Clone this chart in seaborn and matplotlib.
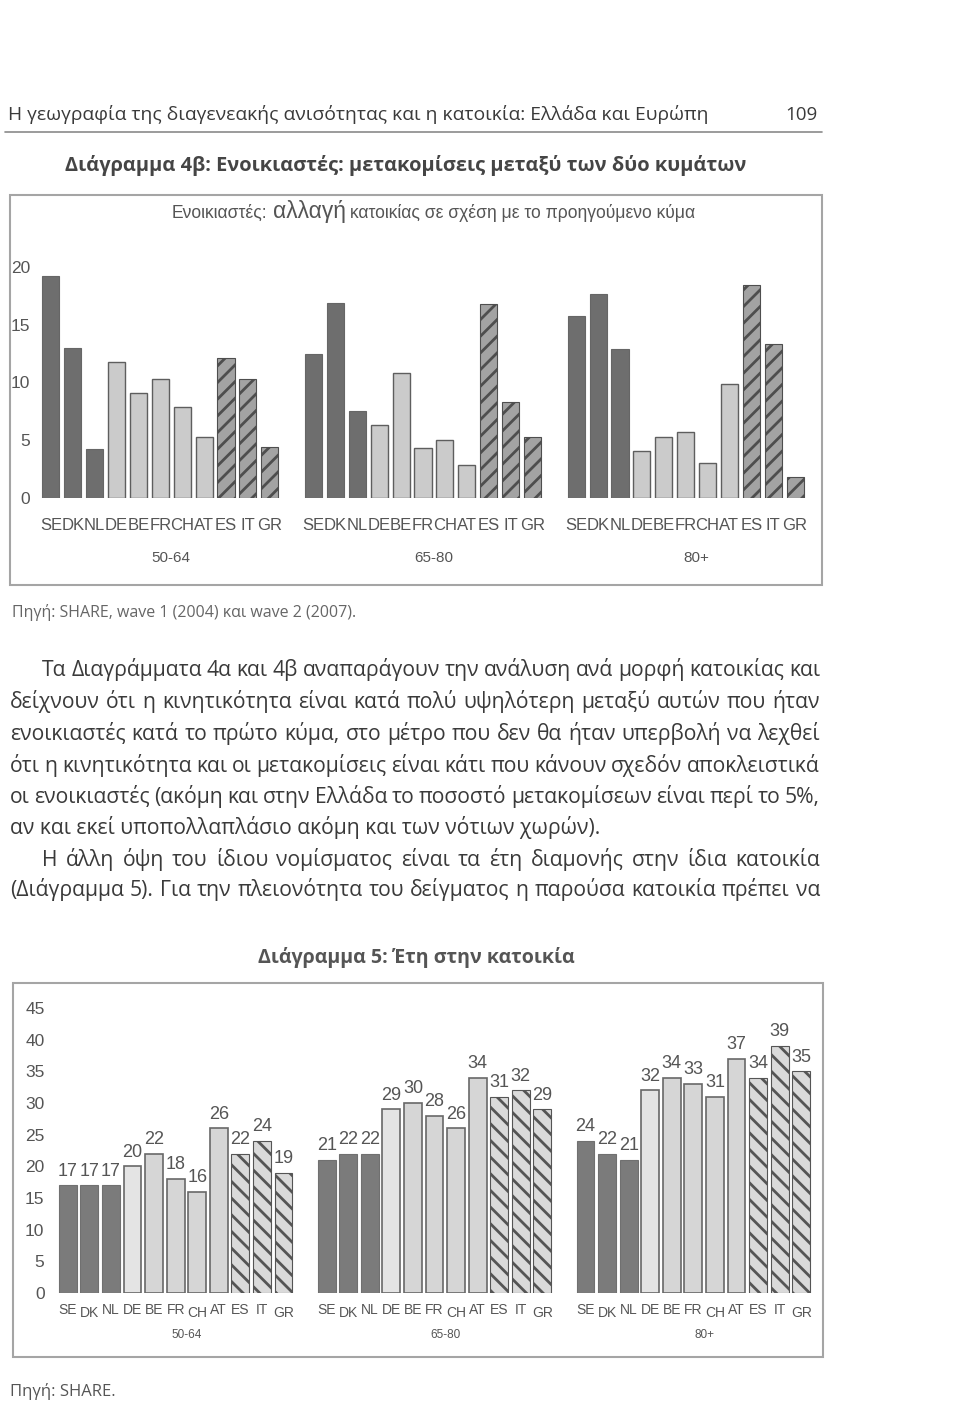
import numpy as np
import pandas as pd
import matplotlib
matplotlib.use("Agg")
import matplotlib.pyplot as plt
import seaborn as sns
from matplotlib.patches import Rectangle
from matplotlib.lines import Line2D
from matplotlib.transforms import blended_transform_factory

# ---------------- data ----------------
countries = ["SE", "DK", "NL", "DE", "BE", "FR", "CH", "AT", "ES", "IT", "GR"]
country_type = ["north", "north", "north", "central", "central", "central",
                "central", "central", "south", "south", "south"]
age_groups = ["50-64", "65-80", "80+"]

# Chart 4b: renters, % moved between waves
moves_5064 = [19.2, 13.0, 4.2, 11.8, 9.1, 10.3, 7.9, 5.3, 12.1, 10.3, 4.4]
moves_6580 = [12.5, 16.9, 7.5, 6.3, 10.8, 4.3, 5.0, 2.9, 16.8, 8.3, 5.3]
moves_80p = [15.8, 17.7, 12.9, 4.1, 5.3, 5.7, 3.0, 9.9, 18.4, 13.3, 1.8]
ticks_moves = [0, 5, 10, 15, 20]

# Chart 5: years in the dwelling
years_5064 = [17, 17, 17, 20, 22, 18, 16, 26, 22, 24, 19]
years_6580 = [21, 22, 22, 29, 30, 28, 26, 34, 31, 32, 29]
years_80p = [24, 22, 21, 32, 34, 33, 31, 37, 34, 39, 35]
ticks_years = [0, 5, 10, 15, 20, 25, 30, 35, 40, 45]

header_text = "Η γεωγραφία της διαγενεακής ανισότητας και η κατοικία: Ελλάδα και Ευρώπη"
page_number = "109"
title_4b = "Διάγραμμα 4β: Ενοικιαστές: μετακομίσεις μεταξύ των δύο κυμάτων"
inner_title_parts = ["Ενοικιαστές:", "αλλαγή", "κατοικίας σε σχέση με το προηγούμενο κύμα"]
source_1 = "Πηγή: SHARE, wave 1 (2004) και wave 2 (2007)."
paragraph_lines = [
    "Τα Διαγράμματα 4α και 4β αναπαράγουν την ανάλυση ανά μορφή κατοικίας και",
    "δείχνουν ότι η κινητικότητα είναι κατά πολύ υψηλότερη μεταξύ αυτών που ήταν",
    "ενοικιαστές κατά το πρώτο κύμα, στο μέτρο που δεν θα ήταν υπερβολή να λεχθεί",
    "ότι η κινητικότητα και οι μετακομίσεις είναι κάτι που κάνουν σχεδόν αποκλειστικά",
    "οι ενοικιαστές (ακόμη και στην Ελλάδα το ποσοστό μετακομίσεων είναι περί το 5%,",
    "αν και εκεί υποπολλαπλάσιο ακόμη και των νότιων χωρών).",
    "Η άλλη όψη του ίδιου νομίσματος είναι τα έτη διαμονής στην ίδια κατοικία",
    "(Διάγραμμα 5). Για την πλειονότητα του δείγματος η παρούσα κατοικία πρέπει να",
]
title_5 = "Διάγραμμα 5: Έτη στην κατοικία"
source_2 = "Πηγή: SHARE."

# ---------------- setup ----------------
W, H = 960, 1405
sns.set_theme(style="white")
plt.rcParams["font.family"] = ["Liberation Sans", "DejaVu Sans"]
plt.rcParams["hatch.linewidth"] = 2.0

fig = plt.figure(figsize=(W / 100, H / 100), dpi=100)
fig.patch.set_facecolor("white")
renderer = fig.canvas.get_renderer()


def fy(y):
    return 1 - y / H


def fx(x):
    return x / W


def text_width(t):
    return t.get_window_extent(renderer).width


def fit_text(x0, x1, y, s, family, weight="normal", color="#333333", base=12):
    t = fig.text(fx(x0), fy(y), s, fontsize=base, family=family, weight=weight,
                 color=color, va="center", ha="left")
    w = text_width(t)
    t.set_fontsize(base * (x1 - x0) / w)
    return t


def justify(x0, x1, y, s, fs, family, color):
    words = s.split()
    texts = [fig.text(0, fy(y), w, fontsize=fs, family=family, color=color,
                      va="baseline", ha="left") for w in words]
    widths = [text_width(t) for t in texts]
    gap = (x1 - x0 - sum(widths)) / max(len(words) - 1, 1)
    x = x0
    for t, w in zip(texts, widths):
        t.set_x(fx(x))
        x += w + gap


def box(x0, y0, x1, y1):
    r = Rectangle((fx(x0), fy(y1)), fx(x1) - fx(x0), fy(y0) - fy(y1),
                  transform=fig.transFigure, fill=False, edgecolor="#a5a5a5",
                  linewidth=1.5)
    fig.patches.append(r)


# ---------------- page header ----------------
body_font = ["Open Sans", "DejaVu Sans"]
fit_text(8, 712, 115, header_text, body_font, color="#3a3a3a", base=14)
fig.text(fx(818), fy(115), page_number, fontsize=13.5, family=body_font,
         color="#3a3a3a", va="center", ha="right")
fig.lines.append(Line2D([fx(5), fx(822)], [fy(132), fy(132)],
                        transform=fig.transFigure, color="#8a8a8a", linewidth=1.2))
fit_text(65, 745, 165, title_4b, body_font, weight="bold", color="#454545", base=16)


def grouped_df(series):
    rows = []
    for gi, vals in enumerate(series):
        for ci, v in enumerate(vals):
            rows.append({"pos": gi * 12 + ci, "value": v, "country": countries[ci],
                         "type": country_type[ci], "group": age_groups[gi]})
    return pd.DataFrame(rows)


# ---------------- chart 4b ----------------
box(10, 195, 822, 585)
parts = []
sizes = [1.0, 1.3, 1.0]
base = 10
for p, s in zip(inner_title_parts, sizes):
    parts.append(fig.text(0, fy(218), p, fontsize=base * s, color="#555555",
                          family=["Liberation Sans", "DejaVu Sans"], va="baseline", ha="left"))
space = 0.28
tot = sum(text_width(p) for p in parts) + 2 * space * base * 1.39
scale = (697 - 172) / tot
x = 172
for p, s in zip(parts, sizes):
    p.set_fontsize(base * s * scale)
for p in parts:
    p.set_x(fx(x))
    x += text_width(p) + space * base * scale * 1.39

df1 = grouped_df([moves_5064, moves_6580, moves_80p])
ax1 = fig.add_axes([fx(40), fy(498), (806 - 40) / W, (498 - 267) / H])
sns.barplot(data=df1, x="pos", y="value", native_scale=True, width=0.78,
            color="#6e6e6e", saturation=1, ax=ax1, errorbar=None)
ax1.set_xlim(-0.5, 34.5)
ax1.set_ylim(0, 20)
ax1.set_yticks(ticks_moves)
ax1.set_yticklabels([str(v) for v in ticks_moves], fontsize=12.5, color="#555555")
ax1.tick_params(axis="y", length=0, pad=7)
ax1.set_xticks([])
ax1.set_xlabel("")
ax1.set_ylabel("")
for s in ax1.spines.values():
    s.set_visible(False)
ax1.set_facecolor("none")

type_by_pos = dict(zip(df1["pos"], df1["type"]))
for patch in ax1.patches:
    pos = int(round(patch.get_x() + patch.get_width() / 2))
    kind = type_by_pos.get(pos)
    if kind == "north":
        patch.set_facecolor("#6e6e6e")
        patch.set_edgecolor("#666666")
        patch.set_linewidth(0.8)
    elif kind == "central":
        patch.set_facecolor("#cbcbcb")
        patch.set_edgecolor("#5e5e5e")
        patch.set_linewidth(1.0)
    else:
        patch.set_facecolor("#a3a3a3")
        patch.set_edgecolor("#4e4e4e")
        patch.set_hatch("//")
        patch.set_linewidth(0.8)

tr1 = blended_transform_factory(ax1.transData, fig.transFigure)
for _, r in df1.iterrows():
    ax1.text(r["pos"], fy(525), r["country"], transform=tr1, ha="center", va="center",
             fontsize=12, color="#555555")
for gi, g in enumerate(age_groups):
    ax1.text(gi * 12 + 5 + 0.5, fy(558), g, transform=tr1, ha="center", va="center",
             fontsize=11, color="#555555")

fig.text(fx(12), fy(613), source_1, fontsize=11.5, family=body_font,
         color="#666666", va="center", ha="left")

# ---------------- paragraph ----------------
line_y = [676, 708, 740, 772, 803, 834, 866, 896]   # baselines
probe = fig.text(0, 0, paragraph_lines[5], fontsize=14, family=body_font)
fs_par = 14 * (607 - 10) / text_width(probe)
probe.remove()
for i, (line, y) in enumerate(zip(paragraph_lines, line_y)):
    x0 = 42 if i in (0, 6) else 10
    if i == 5:
        fig.text(fx(x0), fy(y), line, fontsize=fs_par, family=body_font,
                 color="#3a3a3a", va="baseline", ha="left")
    else:
        justify(x0, 820, y, line, fs_par, body_font, "#3a3a3a")

# ---------------- chart 5 ----------------
fit_text(258, 575, 957, title_5, body_font, weight="bold", color="#555555", base=15)
box(13, 983, 823, 1357)

df2 = grouped_df([years_5064, years_6580, years_80p])
ax2 = fig.add_axes([fx(57), fy(1293), (812 - 57) / W, (1293 - 1008) / H])
sns.barplot(data=df2, x="pos", y="value", native_scale=True, width=0.83,
            color="#7b7b7b", saturation=1, ax=ax2, errorbar=None)
ax2.set_xlim(-0.5, 34.5)
ax2.set_ylim(0, 45)
ax2.set_yticks(ticks_years)
ax2.set_yticklabels([str(v) for v in ticks_years], fontsize=12.5, color="#555555")
ax2.tick_params(axis="y", length=0, pad=9)
ax2.set_xticks([])
ax2.set_xlabel("")
ax2.set_ylabel("")
for s in ax2.spines.values():
    s.set_visible(False)
ax2.set_facecolor("none")

country_by_pos = dict(zip(df2["pos"], df2["country"]))
for patch in ax2.patches:
    pos = int(round(patch.get_x() + patch.get_width() / 2))
    kind = type_by_pos.get(pos)
    if kind == "north":
        patch.set_facecolor("#7b7b7b")
        patch.set_edgecolor("#707070")
        patch.set_linewidth(0.8)
    elif kind == "central":
        patch.set_facecolor("#e4e4e4" if country_by_pos[pos] == "DE" else "#d6d6d6")
        patch.set_edgecolor("#686868")
        patch.set_linewidth(1.2)
    else:
        patch.set_facecolor("#dadada")
        patch.set_edgecolor("#555555")
        patch.set_hatch("\\\\")
        patch.set_linewidth(0.8)
    h = patch.get_height()
    ax2.annotate(f"{h:.0f}", (patch.get_x() + patch.get_width() / 2, h),
                 xytext=(0, 4), textcoords="offset points", ha="center", va="bottom",
                 fontsize=13, color="#555555")

tr2 = blended_transform_factory(ax2.transData, fig.transFigure)
for _, r in df2.iterrows():
    dy = 3 if r["country"] in ("DK", "CH", "GR") else 0
    ax2.text(r["pos"], fy(1310 + dy), r["country"], transform=tr2, ha="center",
             va="center", fontsize=10, color="#555555")
for gi, g in enumerate(age_groups):
    ax2.text(gi * 12 + 5 + 0.5, fy(1335), g, transform=tr2, ha="center", va="center",
             fontsize=8.5, color="#555555")

fig.text(fx(10), fy(1392), source_2, fontsize=12, family=body_font,
         color="#555555", va="center", ha="left")

fig.savefig("out.png", dpi=100, facecolor="white")
